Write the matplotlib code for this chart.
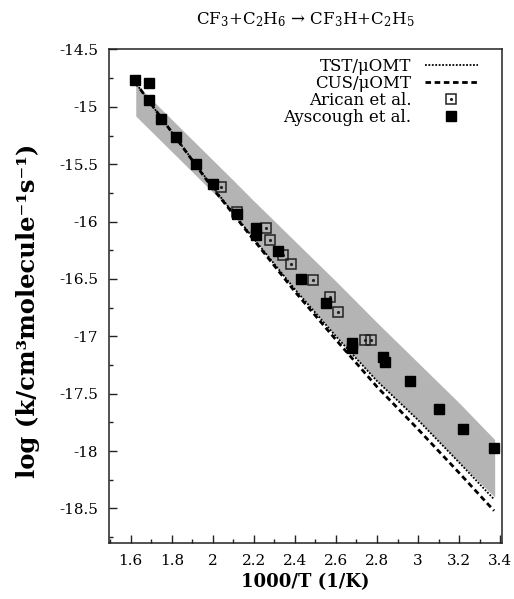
import matplotlib
matplotlib.use('Agg')
import matplotlib.pyplot as plt
from matplotlib.ticker import MultipleLocator
from matplotlib.legend_handler import HandlerTuple

# ---- data ----
ays_x = [1.62, 1.69, 1.69, 1.75, 1.82, 1.92, 2.00, 2.12, 2.21, 2.21, 2.32, 2.43,
         2.55, 2.68, 2.68, 2.83, 2.84, 2.96, 3.10, 3.22, 3.37]
ays_y = [-14.77, -14.79, -14.94, -15.11, -15.26, -15.50, -15.67, -15.93, -16.06,
         -16.12, -16.26, -16.50, -16.71, -17.06, -17.10, -17.18, -17.22, -17.39,
         -17.63, -17.81, -17.97]

ari_x = [2.04, 2.12, 2.26, 2.28, 2.34, 2.38, 2.49, 2.57, 2.61, 2.74, 2.77]
ari_y = [-15.70, -15.92, -16.06, -16.16, -16.29, -16.37, -16.51, -16.66, -16.79,
         -17.03, -17.03]

line_x = [1.62, 1.8, 2.0, 2.2, 2.4, 2.6, 2.8, 3.0, 3.2, 3.37]
tst_y = [-14.78, -15.22, -15.70, -16.15, -16.59, -17.00, -17.39, -17.73, -18.10, -18.42]
cus_y = [-14.78, -15.22, -15.71, -16.16, -16.61, -17.03, -17.44, -17.81, -18.19, -18.52]

band_x = [1.625, 2.1, 2.2, 2.4, 2.6, 2.8, 3.0, 3.2, 3.373]
band_hi = [-14.80, -15.64, -15.82, -16.17, -16.52, -16.88, -17.23, -17.58, -17.90]
band_lo = [-15.08, -15.92, -16.15, -16.59, -17.00, -17.39, -17.73, -18.10, -18.40]

labels = ['TST/\u03bcOMT', 'CUS/\u03bcOMT', 'Arican et al.', 'Ayscough et al.']
title = r'CF$_3$+C$_2$H$_6$' + ' \u2192 ' + r'CF$_3$H+C$_2$H$_5$'
xlabel = '1000/T (1/K)'
ylabel = 'log (k/cm\u00b3molecule\u207b\u00b9s\u207b\u00b9)'

plt.rcParams['font.family'] = ['DejaVu Serif']
plt.rcParams['mathtext.fontset'] = 'dejavuserif'
plt.rcParams['axes.unicode_minus'] = False

fig = plt.figure(figsize=(5.14, 5.99), dpi=100)
ax = fig.add_axes([0.2126, 0.0937, 0.7634, 0.8237])

ax.fill_between(band_x, band_lo, band_hi, color='#b4b4b4', lw=0, zorder=1)
l1, = ax.plot(line_x, tst_y, color='black', lw=1.3, ls=(0, (1, 0.9)), zorder=2)
l2, = ax.plot(line_x, cus_y, color='black', lw=2.0, ls=(0, (2, 1.3)), zorder=2)
o1, = ax.plot(ari_x, ari_y, ls='none', marker='s', ms=7.5, mfc='none',
              mec='#222222', mew=1.1, zorder=3)
o2, = ax.plot(ari_x, ari_y, ls='none', marker='.', ms=2.5, color='#222222', zorder=3)
f1, = ax.plot(ays_x, ays_y, ls='none', marker='s', ms=7.5, color='black', zorder=4)

ax.set_xlim(1.496, 3.407)
ax.set_ylim(-18.8, -14.5)
ax.xaxis.set_major_locator(MultipleLocator(0.2))
ax.xaxis.set_minor_locator(MultipleLocator(0.1))
ax.yaxis.set_major_locator(MultipleLocator(0.5))
ax.yaxis.set_minor_locator(MultipleLocator(0.25))
ax.xaxis.set_major_formatter(matplotlib.ticker.FuncFormatter(lambda v, p: f'{v:g}'))
ax.yaxis.set_major_formatter(matplotlib.ticker.FuncFormatter(lambda v, p: f'{v:g}'))
ax.tick_params(which='both', direction='in', top=False, right=False,
               labelsize=11, pad=8, width=1.0, color='#222222')
ax.tick_params(which='major', length=5.8)
ax.tick_params(which='minor', length=2.9)
for s in ax.spines.values():
    s.set_linewidth(1.1)
    s.set_color('#222222')

ax.set_title(title, fontsize=12, pad=18)
ax.set_xlabel(xlabel, fontsize=13, fontweight='bold', labelpad=4)
ax.set_ylabel(ylabel, fontsize=17.5, fontweight='bold')
ax.yaxis.set_label_coords(-0.176, 0.471)

ax.legend([l1, l2, (o1, o2), f1], labels,
          handler_map={tuple: HandlerTuple(ndivide=1, pad=0)},
          markerfirst=False, frameon=False, loc='upper right',
          bbox_to_anchor=(0.9396, 0.9830), borderaxespad=0, borderpad=0,
          handlelength=3.2, handletextpad=0.8, labelspacing=0.0,
          fontsize=12, numpoints=1)

fig.savefig('out.png', dpi=100)
